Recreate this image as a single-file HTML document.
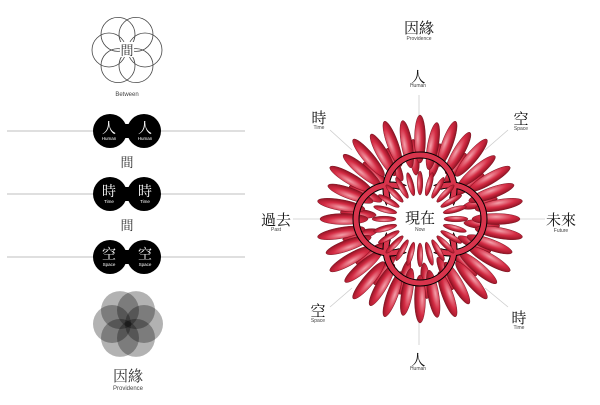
<!DOCTYPE html>
<html><head><meta charset="utf-8"><style>
html,body{margin:0;padding:0;background:#fff}
svg{display:block}
text{font-family:"Liberation Serif","Noto Serif CJK SC",serif}
.s{font-family:"Liberation Sans",sans-serif;font-size:5px;fill:#444}
.sw{font-family:"Liberation Sans",sans-serif;font-size:4.5px;fill:#fff}
</style></head><body>
<svg width="600" height="405" viewBox="0 0 600 405" xmlns="http://www.w3.org/2000/svg">
<defs>
<radialGradient id="pg" cx="0.5" cy="0.3" r="0.7">
<stop offset="0" stop-color="#f3a0aa"/><stop offset="0.5" stop-color="#d42c44"/><stop offset="1" stop-color="#8a1020"/>
</radialGradient>
<ellipse id="pet" cx="0" cy="0" rx="24" ry="5.5" fill="url(#pg)" stroke="#6a0c18" stroke-width="0.4"/>
<ellipse id="pet3" cx="0" cy="0" rx="18" ry="4.5" fill="url(#pg)" stroke="#6a0c18" stroke-width="0.4"/>
<ellipse id="pet2" cx="0" cy="0" rx="12" ry="2.8" fill="url(#pg)" stroke="#6a0c18" stroke-width="0.4"/>
</defs>
<!-- Between flower -->
<g fill="none" stroke="#444" stroke-width="0.8">
<circle cx="145" cy="50" r="17"/><circle cx="109" cy="50" r="17"/>
<circle cx="136" cy="34.4" r="17"/><circle cx="118" cy="34.4" r="17"/>
<circle cx="136" cy="65.6" r="17"/><circle cx="118" cy="65.6" r="17"/>
</g>
<rect x="120" y="42" width="14" height="15" fill="#fff"/>
<text x="127" y="55" font-size="13" text-anchor="middle" fill="#333">間</text>
<text x="127" y="96" class="s" text-anchor="middle" style="font-size:6px">Between</text>
<!-- lines -->
<g stroke="#aaa" stroke-width="0.7">
<line x1="7" y1="131" x2="245" y2="131"/><line x1="7" y1="194" x2="245" y2="194"/><line x1="7" y1="257" x2="245" y2="257"/>
</g>
<g fill="#000">
<circle cx="110" cy="131" r="17"/><circle cx="144" cy="131" r="17"/><rect x="110" y="124" width="34" height="14"/>
<circle cx="110" cy="194" r="17"/><circle cx="144" cy="194" r="17"/><rect x="110" y="187" width="34" height="14"/>
<circle cx="110" cy="257" r="17"/><circle cx="144" cy="257" r="17"/><rect x="110" y="250" width="34" height="14"/>
</g>
<g fill="#fff" font-size="14" text-anchor="middle">
<text x="109" y="133">人</text><text x="145" y="133">人</text>
<text x="109" y="196">時</text><text x="145" y="196">時</text>
<text x="109" y="259">空</text><text x="145" y="259">空</text>
</g>
<g text-anchor="middle">
<text x="109" y="140" class="sw">Human</text><text x="145" y="140" class="sw">Human</text>
<text x="109" y="203" class="sw">Time</text><text x="145" y="203" class="sw">Time</text>
<text x="109" y="266" class="sw">Space</text><text x="145" y="266" class="sw">Space</text>
</g>
<text x="127" y="167" font-size="13" text-anchor="middle" fill="#333">間</text>
<text x="127" y="230" font-size="13" text-anchor="middle" fill="#333">間</text>
<!-- Providence -->
<g fill="#000" fill-opacity="0.3">
<circle cx="144" cy="324" r="19"/><circle cx="112" cy="324" r="19"/>
<circle cx="136" cy="310.1" r="19"/><circle cx="120" cy="310.1" r="19"/>
<circle cx="136" cy="337.9" r="19"/><circle cx="120" cy="337.9" r="19"/>
</g>
<text x="128" y="381" font-size="15" text-anchor="middle" fill="#333">因緣</text>
<text x="128" y="390" class="s" text-anchor="middle" style="font-size:6px">Providence</text>
<!-- right labels -->
<g stroke="#ccc" stroke-width="0.8">
<line x1="419" y1="95" x2="419" y2="125"/><line x1="419" y1="312" x2="419" y2="345"/>
<line x1="293" y1="219" x2="325" y2="219"/><line x1="515" y1="219" x2="545" y2="219"/>
<line x1="330" y1="130" x2="352" y2="150"/><line x1="508" y1="130" x2="485" y2="150"/>
<line x1="330" y1="307" x2="352" y2="288"/><line x1="508" y1="307" x2="485" y2="288"/>
</g>
<g font-size="15" text-anchor="middle" fill="#111">
<text x="419" y="33">因緣</text>
<text x="418" y="82">人</text>
<text x="319" y="123">時</text><text x="521" y="124">空</text>
<text x="276" y="225">過去</text><text x="561" y="225">未來</text>
<text x="318" y="316">空</text><text x="519" y="323">時</text>
<text x="418" y="365">人</text>
</g>
<g text-anchor="middle">
<text x="419" y="40" class="s">Providence</text>
<text x="418" y="87" class="s">Human</text>
<text x="319" y="129" class="s">Time</text><text x="521" y="130" class="s">Space</text>
<text x="276" y="231" class="s">Past</text><text x="561" y="232" class="s">Future</text>
<text x="318" y="322" class="s">Space</text><text x="519" y="329" class="s">Time</text>
<text x="418" y="370" class="s">Human</text>
</g>
<!-- red flower -->
<g transform="translate(420,219)">
<g id="mid">
<use href="#pet3" transform="rotate(5) translate(62,0)"/><use href="#pet3" transform="rotate(25) translate(60,0)"/><use href="#pet3" transform="rotate(45) translate(62,0)"/>
<use href="#pet3" transform="rotate(65) translate(60,0)"/><use href="#pet3" transform="rotate(85) translate(62,0)"/><use href="#pet3" transform="rotate(105) translate(60,0)"/>
<use href="#pet3" transform="rotate(125) translate(62,0)"/><use href="#pet3" transform="rotate(145) translate(60,0)"/><use href="#pet3" transform="rotate(165) translate(62,0)"/>
</g>
<use href="#mid" transform="rotate(180)"/>
<g id="outer">
<use href="#pet" transform="rotate(0) translate(76,0)"/><use href="#pet" transform="rotate(10) translate(80,0)"/><use href="#pet" transform="rotate(20) translate(74,0)"/>
<use href="#pet" transform="rotate(30) translate(80,0)"/><use href="#pet" transform="rotate(40) translate(76,0)"/><use href="#pet" transform="rotate(50) translate(80,0)"/>
<use href="#pet" transform="rotate(60) translate(74,0)"/><use href="#pet" transform="rotate(70) translate(80,0)"/><use href="#pet" transform="rotate(80) translate(76,0)"/>
<use href="#pet" transform="rotate(90) translate(80,0)"/><use href="#pet" transform="rotate(100) translate(74,0)"/><use href="#pet" transform="rotate(110) translate(80,0)"/>
<use href="#pet" transform="rotate(120) translate(76,0)"/><use href="#pet" transform="rotate(130) translate(80,0)"/><use href="#pet" transform="rotate(140) translate(74,0)"/>
<use href="#pet" transform="rotate(150) translate(80,0)"/><use href="#pet" transform="rotate(160) translate(76,0)"/><use href="#pet" transform="rotate(170) translate(80,0)"/>
</g>
<use href="#outer" transform="rotate(180)"/>
<g fill="none" stroke="#000" stroke-width="7">
<circle cx="0" cy="-30" r="34"/><circle cx="0" cy="30" r="34"/><circle cx="-30" cy="0" r="34"/><circle cx="30" cy="0" r="34"/>
</g>
<g fill="none" stroke="#d8344c" stroke-width="5">
<circle cx="0" cy="-30" r="34"/><circle cx="0" cy="30" r="34"/><circle cx="-30" cy="0" r="34"/><circle cx="30" cy="0" r="34"/>
</g>
<circle cx="0" cy="0" r="36" fill="#fff"/>
<g id="inner">
<use href="#pet2" transform="rotate(0) translate(36,0)"/><use href="#pet2" transform="rotate(15) translate(36,0)"/><use href="#pet2" transform="rotate(30) translate(36,0)"/>
<use href="#pet2" transform="rotate(45) translate(36,0)"/><use href="#pet2" transform="rotate(60) translate(36,0)"/><use href="#pet2" transform="rotate(75) translate(36,0)"/>
<use href="#pet2" transform="rotate(90) translate(36,0)"/><use href="#pet2" transform="rotate(105) translate(36,0)"/><use href="#pet2" transform="rotate(120) translate(36,0)"/>
<use href="#pet2" transform="rotate(135) translate(36,0)"/><use href="#pet2" transform="rotate(150) translate(36,0)"/><use href="#pet2" transform="rotate(165) translate(36,0)"/>
</g>
<use href="#inner" transform="rotate(180)"/>
<circle cx="0" cy="0" r="22" fill="#fff"/>
</g>
<text x="420" y="223" font-size="15" text-anchor="middle" fill="#111">現在</text>
<text x="420" y="231" class="s" text-anchor="middle">Now</text>
</svg>
</body></html>
